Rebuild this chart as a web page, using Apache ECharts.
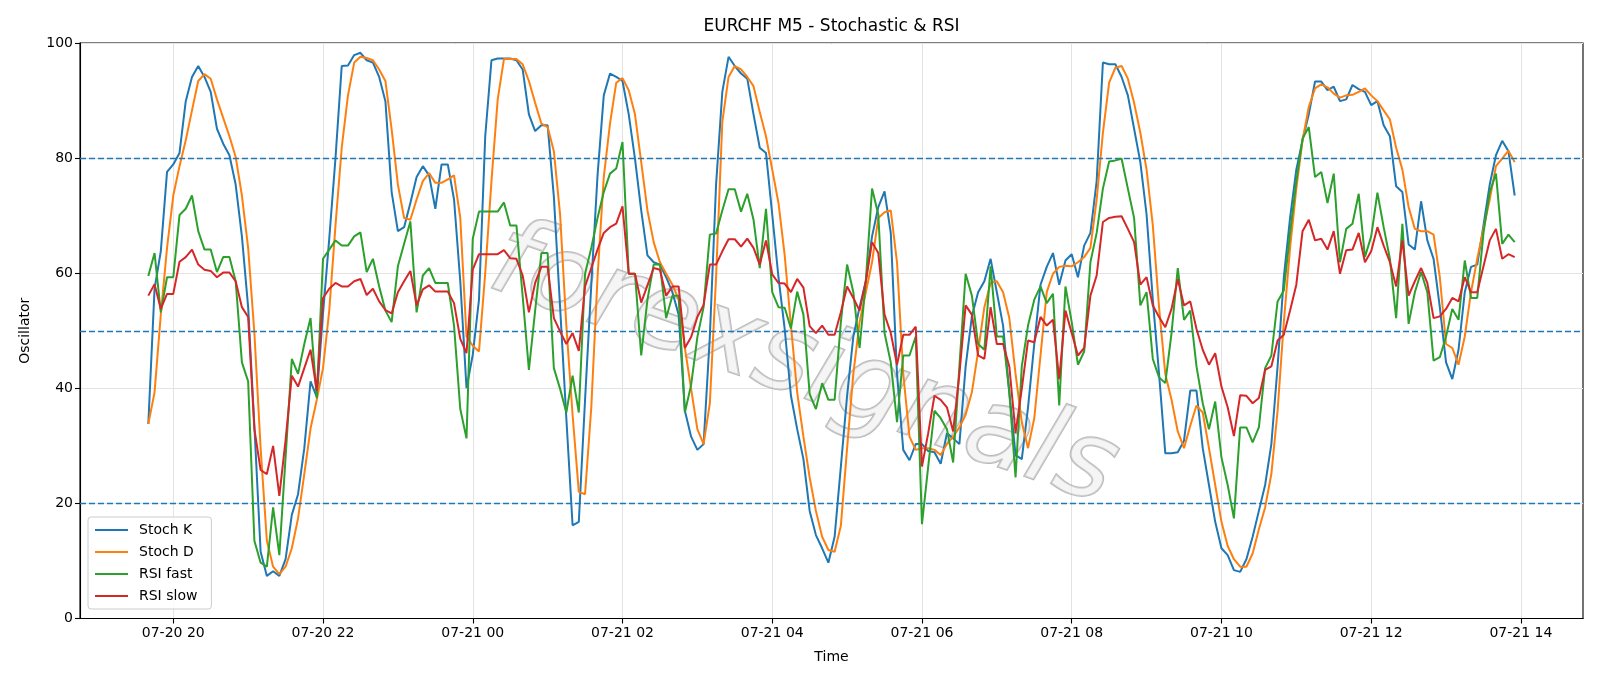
<!DOCTYPE html>
<html><head><meta charset="utf-8">
<script src="https://cdn.jsdelivr.net/npm/echarts@6/dist/echarts.min.js"></script>
<style>html,body{margin:0;padding:0;background:#fff}#c{width:1600px;height:686px}</style>
</head><body><div id="c"></div>
<script>
// Time: first bar 07-20 19:40, M5 bars; x measured in hours since 07-20 00:00
const START_HOUR = 19 + 40 / 60;
const STEP_HOURS = 5 / 60;
const tickValues = [20, 22, 24, 26, 28, 30, 32, 34, 36, 38];
const tickLabels = ['07-20 20', '07-20 22', '07-21 00', '07-21 02', '07-21 04', '07-21 06', '07-21 08', '07-21 10', '07-21 12', '07-21 14'];
const levelLines = [20, 50, 80];

const stochK = [33.8,57.3,63.8,77.6,78.9,80.9,89.9,94.1,96.0,94.1,
91.5,85.1,82.5,80.5,75.4,66.4,54.1,33.5,11.6,7.4,
8.2,7.4,10.3,18.0,21.6,29.6,41.2,38.5,53.0,66.0,
80.0,96.0,96.1,97.9,98.3,97.0,96.6,94.1,89.9,74.1,
67.3,68.0,72.2,76.7,78.6,77.0,71.2,78.9,78.9,72.8,
58.6,40.0,45.8,55.4,83.8,97.0,97.3,97.3,97.3,97.0,
95.4,87.6,84.7,85.7,85.7,73.3,54.1,34.8,16.2,16.8,
38.0,58.0,77.0,90.9,94.7,94.1,93.4,87.6,79.9,70.9,
63.1,61.9,61.5,59.3,56.7,52.8,36.1,31.6,29.3,30.3,
49.0,75.4,91.5,97.6,96.0,94.7,93.8,87.6,81.8,80.9,
70.2,59.3,50.3,38.7,32.9,27.7,18.7,14.5,12.2,9.7,
14.2,26.4,38.7,49.0,54.1,58.6,66.4,71.5,74.2,67.0,
42.5,29.3,27.5,30.3,30.3,29.1,28.9,26.9,32.2,31.3,
30.3,43.8,52.5,56.7,58.6,62.5,56.7,50.9,39.3,28.4,
27.7,36.7,47.7,58.0,61.1,63.5,58.0,62.2,63.3,59.3,
64.8,67.0,76.0,96.6,96.3,96.3,94.1,90.9,85.1,79.3,
70.2,55.4,42.5,28.7,28.7,28.9,30.9,39.6,39.6,29.6,
23.2,16.8,12.2,11.0,8.4,8.1,10.3,14.2,18.7,23.2,
30.3,43.8,59.3,69.6,78.0,83.1,87.6,93.3,93.3,91.8,
92.4,89.9,90.2,92.7,92.0,91.5,89.2,89.9,85.7,83.8,
75.1,74.1,65.0,64.1,72.5,65.7,62.5,54.1,44.5,41.6,
46.7,56.7,61.1,61.5,68.3,75.4,80.5,83.0,81.2,73.5];

const stochD = [33.8,39.3,52.8,64.4,73.5,78.6,83.1,88.3,93.4,94.6,
93.8,90.2,87.0,83.8,80.2,73.5,64.4,49.6,29.6,13.5,
9.0,7.7,9.0,12.2,17.4,25.1,33.0,38.0,43.5,53.5,
68.3,81.8,90.9,96.6,97.6,97.4,97.0,95.4,93.4,85.0,
75.4,69.6,69.3,72.8,76.0,77.4,75.7,75.7,76.3,77.0,
69.6,49.0,47.4,46.4,60.0,76.0,90.2,97.2,97.2,97.2,
96.3,93.4,89.6,86.0,85.4,81.2,70.2,50.9,35.4,22.0,
21.6,36.7,59.3,76.7,86.0,93.1,93.9,91.8,87.6,79.3,
70.9,65.4,61.9,59.9,58.0,55.4,47.0,39.9,32.9,30.3,
37.4,59.3,86.3,94.1,96.0,95.4,94.1,92.5,88.0,83.8,
78.0,72.2,63.1,50.9,39.3,31.6,24.5,18.7,14.2,11.9,
11.6,16.1,29.6,42.5,51.5,56.7,61.9,69.6,70.6,70.9,
61.9,42.5,31.6,29.3,29.6,29.6,29.3,28.4,30.3,31.6,
33.2,35.4,39.3,46.4,54.1,58.3,58.6,56.7,52.2,42.5,
34.1,29.6,34.8,45.7,56.7,59.9,61.1,61.3,61.2,61.9,
62.8,64.4,72.8,84.4,93.1,95.7,96.0,93.8,89.6,84.4,
78.0,68.3,54.1,42.5,38.0,32.5,29.6,33.5,37.0,35.8,
29.6,23.2,16.8,12.6,10.3,9.0,9.0,11.3,15.5,19.3,
25.1,36.1,51.5,64.4,74.7,83.1,88.9,92.1,92.8,92.3,
91.2,90.5,90.9,91.0,91.5,92.1,90.9,89.9,88.3,86.7,
81.8,78.0,71.5,67.7,67.3,67.3,66.7,59.3,47.7,47.0,
44.1,49.0,56.7,62.5,67.7,72.8,78.6,79.9,81.3,79.3];

const rsiFast = [59.5,63.5,53.2,59.3,59.3,70.1,71.2,73.5,67.3,64.1,
64.1,60.2,62.8,62.8,58.6,44.5,41.2,13.5,9.7,9.0,
19.3,11.0,28.0,45.1,42.5,47.7,52.2,38.3,62.5,64.1,
65.7,64.8,64.8,66.4,67.1,60.2,62.5,57.7,53.5,51.5,
61.2,65.1,69.0,53.2,59.6,60.9,58.3,58.3,58.3,50.9,
36.4,31.3,66.0,70.7,70.7,70.7,70.7,72.3,68.3,68.3,
56.0,43.2,53.5,63.5,63.5,43.5,39.9,35.8,42.2,35.8,
59.9,64.4,69.6,74.1,77.3,78.2,82.8,59.9,59.9,45.7,
55.4,61.5,61.5,52.2,56.1,56.1,35.8,40.6,48.9,54.1,
66.7,66.9,70.9,74.6,74.6,70.7,73.8,69.3,60.9,71.2,
56.7,54.1,54.0,50.4,56.8,52.8,39.0,36.4,40.9,38.0,
38.0,51.5,61.5,56.7,47.0,58.6,74.7,70.2,49.6,44.5,
34.1,45.7,45.7,49.0,16.4,26.4,36.1,34.8,32.9,27.1,
43.8,59.9,56.1,47.7,46.7,61.2,49.0,49.0,39.3,24.5,
43.8,50.9,55.4,57.7,54.8,56.4,37.0,57.7,51.5,44.1,
46.4,61.9,67.0,74.7,79.4,79.6,79.9,74.7,69.6,54.4,
56.7,45.1,41.9,40.9,49.6,60.9,51.9,53.5,43.8,37.4,
32.9,37.7,28.0,23.2,17.4,33.2,33.2,30.6,33.2,43.5,
45.7,55.1,57.0,67.0,76.0,83.4,85.4,76.7,77.6,72.2,
77.3,61.9,67.7,68.6,73.8,62.8,66.4,74.0,68.0,62.5,
52.2,68.6,51.2,56.7,60.2,56.7,44.8,45.4,49.0,53.8,
51.9,62.2,55.7,55.7,67.0,74.1,77.3,65.1,66.7,65.4];

const rsiSlow = [56.1,58.1,53.8,56.4,56.4,62.0,62.8,64.1,61.5,60.6,
60.4,59.3,60.1,60.1,58.6,54.1,52.4,32.9,25.8,25.1,
30.0,21.3,31.0,42.2,40.3,43.5,46.7,39.6,55.7,57.3,
58.3,57.7,57.7,58.6,59.0,56.2,57.3,55.1,53.6,53.0,
56.7,58.6,60.4,54.4,57.2,57.9,56.8,56.8,56.8,54.8,
48.6,46.1,60.6,63.3,63.3,63.3,63.3,64.0,62.6,62.5,
59.6,53.2,58.3,61.1,61.1,52.2,49.9,47.7,49.6,46.5,
57.7,60.9,64.1,67.0,68.0,68.6,71.6,59.9,59.9,54.9,
57.9,60.9,60.6,56.1,57.7,57.7,47.0,48.9,52.4,54.5,
61.5,61.5,63.8,65.9,65.9,64.6,66.0,64.4,61.5,65.7,
59.8,58.3,58.2,56.7,59.0,57.5,50.8,49.6,50.9,49.3,
49.3,53.2,57.7,55.7,53.5,58.6,65.4,63.5,52.8,49.6,
44.1,49.3,49.3,50.7,26.4,32.2,38.7,38.0,36.7,32.5,
42.5,54.4,52.8,45.7,45.1,54.1,47.7,47.7,43.8,32.2,
39.9,48.3,48.0,52.4,50.9,51.9,41.6,53.5,49.6,45.7,
47.0,56.1,59.6,68.9,69.6,69.8,69.9,67.7,65.4,58.0,
59.3,54.4,52.4,50.6,53.8,59.0,54.4,55.1,50.3,46.7,
44.1,46.1,40.3,36.7,31.7,38.8,38.7,37.4,38.3,43.2,
43.8,48.3,49.3,53.5,58.0,67.3,69.3,65.7,66.0,64.1,
67.3,59.9,64.0,64.1,67.0,61.9,63.8,68.0,64.8,61.9,
57.7,65.7,56.1,58.6,60.9,58.3,52.2,52.5,53.8,55.7,
55.1,59.3,56.7,56.7,61.2,65.7,67.7,62.5,63.3,62.8];

const seriesNames = ['Stoch K', 'Stoch D', 'RSI fast', 'RSI slow'];
const seriesColors = ['#1f77b4', '#ff7f0e', '#2ca02c', '#d62728'];
const seriesValues = [stochK, stochD, rsiFast, rsiSlow];

const n = stochK.length;
const xFirst = START_HOUR, xLast = START_HOUR + (n - 1) * STEP_HOURS;
const pad = (xLast - xFirst) * 0.05;
const FONT = 'DejaVu Sans';

const chart = echarts.init(document.getElementById('c'), null, {renderer: 'canvas'});

const series = seriesValues.map((vals, k) => ({
  name: seriesNames[k],
  type: 'line',
  symbol: 'none',
  z: 3 + k,
  data: vals.map((v, i) => [START_HOUR + i * STEP_HOURS, v]),
  lineStyle: {color: seriesColors[k], width: 2},
  itemStyle: {color: seriesColors[k]},
  emphasis: {disabled: true},
  animation: false
}));
series[0].markLine = {
  silent: true,
  symbol: ['none', 'none'],
  label: {show: false},
  lineStyle: {color: '#1f77b4', type: [6, 3], width: 1.3},
  data: levelLines.map(v => ({yAxis: v})),
  animation: false
};

chart.setOption({
  backgroundColor: '#fff',
  animation: false,
  grid: {left: 80, right: 17, top: 43, bottom: 67.5, show: true, borderColor: '#000', borderWidth: 1.1, containLabel: false},
  graphic: [
    {type: 'text', x: 831.5, y: 26.5, z: 10,
     style: {text: 'EURCHF M5 - Stochastic & RSI', fontFamily: FONT, fontSize: 17, fill: '#000', align: 'center', verticalAlign: 'middle'}},
    {type: 'text', x: 803, y: 368, rotation: -0.34, z: 1,
     style: {text: 'forexsignals', fontFamily: FONT, fontStyle: 'italic', fontSize: 108, fill: 'rgba(235,235,235,0.5)', stroke: 'rgba(140,140,140,0.6)', lineWidth: 2,
             align: 'center', verticalAlign: 'middle', shadowColor: 'rgba(0,0,0,0.3)', shadowBlur: 3, shadowOffsetX: 3, shadowOffsetY: 3}}
  ],
  legend: {
    orient: 'vertical', left: 88, top: 517,
    data: seriesNames,
    icon: 'rect',
    itemWidth: 33, itemHeight: 2.2, itemGap: 8,
    padding: [6, 14, 6, 7],
    borderColor: '#cccccc', borderWidth: 1, borderRadius: 3,
    backgroundColor: 'rgba(255,255,255,0.8)',
    textStyle: {fontFamily: FONT, fontSize: 14, color: '#000', padding: [0, 0, 0, 6], lineHeight: 14},
    selectedMode: false
  },
  xAxis: {
    type: 'value', min: xFirst - pad, max: xLast + pad,
    name: 'Time', nameLocation: 'middle', nameGap: 32,
    nameTextStyle: {fontFamily: FONT, fontSize: 14, color: '#000'},
    axisLine: {show: true, onZero: false, lineStyle: {color: '#000', width: 1.1}},
    axisTick: {show: true, length: 5, lineStyle: {color: '#000', width: 1.1}, customValues: tickValues},
    axisLabel: {customValues: tickValues, fontFamily: FONT, fontSize: 14, color: '#000', margin: 8,
                formatter: v => { const j = tickValues.indexOf(Math.round(v)); return j >= 0 ? tickLabels[j] : ''; }},
    splitLine: {show: true, lineStyle: {color: '#e3e3e3', width: 1}}
  },
  yAxis: {
    type: 'value', min: 0, max: 100, interval: 20,
    name: 'Oscillator', nameLocation: 'middle', nameGap: 48, nameRotate: 90,
    nameTextStyle: {fontFamily: FONT, fontSize: 14, color: '#000'},
    axisLine: {show: true, lineStyle: {color: '#000', width: 1.1}},
    axisTick: {show: true, length: 5, lineStyle: {color: '#000', width: 1.1}},
    axisLabel: {fontFamily: FONT, fontSize: 14, color: '#000', margin: 7},
    splitLine: {show: true, lineStyle: {color: '#e3e3e3', width: 1}}
  },
  series: series
});
</script></body></html>
